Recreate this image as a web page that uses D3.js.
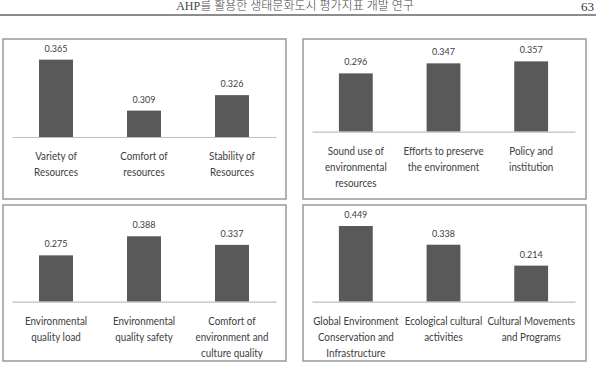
<!DOCTYPE html>
<html>
<head>
<meta charset="utf-8">
<script src="https://cdn.jsdelivr.net/npm/d3@7"></script>
<style>
  html, body { margin: 0; padding: 0; background: #fff; }
  svg { display: block; }
</style>
</head>
<body>
<svg id="chart" width="596" height="367"></svg>
<script>
// ---- data ----
const headerTitle = "AHP를 활용한 생태문화도시 평가지표 개발 연구";
const pageNumber = "63";

const categories1 = [["Variety of", "Resources"], ["Comfort of", "resources"], ["Stability of", "Resources"]];
const values1 = [0.365, 0.309, 0.326];

const categories2 = [["Sound use of", "environmental", "resources"], ["Efforts to preserve", "the environment"], ["Policy and", "institution"]];
const values2 = [0.296, 0.347, 0.357];

const categories3 = [["Environmental", "quality load"], ["Environmental", "quality safety"], ["Comfort of", "environment and", "culture quality"]];
const values3 = [0.275, 0.388, 0.337];

const categories4 = [["Global Environment", "Conservation and", "Infrastructure"], ["Ecological cultural", "activities"], ["Cultural Movements", "and Programs"]];
const values4 = [0.449, 0.338, 0.214];

// ---- layout ----
const svg = d3.select("#chart");
const labelFont = "Lato, 'Open Sans', sans-serif";
const narrow = 0.82;

// header
svg.append("text")
  .attr("x", 295).attr("y", 10)
  .attr("text-anchor", "middle")
  .attr("font-family", "'Liberation Serif', 'Noto Sans CJK KR', serif")
  .attr("font-size", 12)
  .attr("font-weight", 300)
  .attr("fill", "#444")
  .text(headerTitle);
svg.append("text")
  .attr("x", 594).attr("y", 11)
  .attr("text-anchor", "end")
  .attr("font-family", "'Liberation Serif', serif")
  .attr("font-size", 13)
  .attr("fill", "#333")
  .text(pageNumber);
svg.append("line")
  .attr("x1", 0).attr("x2", 596).attr("y1", 15).attr("y2", 15)
  .attr("stroke", "#666").attr("stroke-width", 1.5);

const panels = [
  { cats: categories1, vals: values1, box: [3, 39, 283, 160], x0: 12, x1: 276, base: 137, domain: [0.28, 0.38], top: 46 },
  { cats: categories2, vals: values2, box: [303, 39, 283, 160], x0: 312, x1: 575, base: 131.7, domain: [0, 0.4], top: 52.9 },
  { cats: categories3, vals: values3, box: [3, 205, 283, 156], x0: 12, x1: 276, base: 301.7, domain: [0, 0.5], top: 217.4 },
  { cats: categories4, vals: values4, box: [303, 205, 283, 156], x0: 312, x1: 575, base: 301.7, domain: [0, 0.5], top: 217.4 }
];

panels.forEach(p => {
  const g = svg.append("g");
  g.append("rect")
    .attr("x", p.box[0]).attr("y", p.box[1])
    .attr("width", p.box[2]).attr("height", p.box[3])
    .attr("fill", "#fff")
    .attr("stroke", "#999").attr("stroke-width", 1.5);

  const idx = p.vals.map((d, i) => i);
  const x = d3.scaleBand().domain(idx).range([p.x0, p.x1])
    .paddingInner(0.614).paddingOuter(0.307);
  const y = d3.scaleLinear().domain(p.domain).range([p.base, p.top]);

  g.selectAll("rect.bar").data(p.vals).join("rect")
    .attr("class", "bar")
    .attr("x", (d, i) => x(i))
    .attr("y", d => y(d))
    .attr("width", x.bandwidth())
    .attr("height", d => p.base - y(d))
    .attr("fill", "#595959");

  const axis = d3.axisBottom(x).tickSize(0).tickFormat("");
  const ax = g.append("g").attr("transform", `translate(0,${p.base})`).call(axis);
  ax.select(".domain").attr("stroke", "#bfbfbf").attr("stroke-width", 1.2);

  g.selectAll("g.val").data(p.vals).join("g")
    .attr("class", "val")
    .attr("transform", (d, i) => `translate(${x(i) + x.bandwidth() / 2},${y(d) - 8}) scale(0.9,1)`)
    .append("text")
    .attr("text-anchor", "middle")
    .attr("font-family", labelFont)
    .attr("font-size", 10)
    .attr("fill", "#404040")
    .text(d => d.toFixed(3));

  p.cats.forEach((lines, i) => {
    const t = g.append("g")
      .attr("transform", `translate(${x(i) + x.bandwidth() / 2},0) scale(${narrow},1)`)
      .append("text")
      .attr("text-anchor", "middle")
      .attr("font-family", labelFont)
      .attr("font-size", 12)
      .attr("fill", "#404040");
    lines.forEach((ln, j) => {
      t.append("tspan")
        .attr("x", 0)
        .attr("y", p.base + 23 + j * 16.3)
        .text(ln);
    });
  });
});
</script>
</body>
</html>
